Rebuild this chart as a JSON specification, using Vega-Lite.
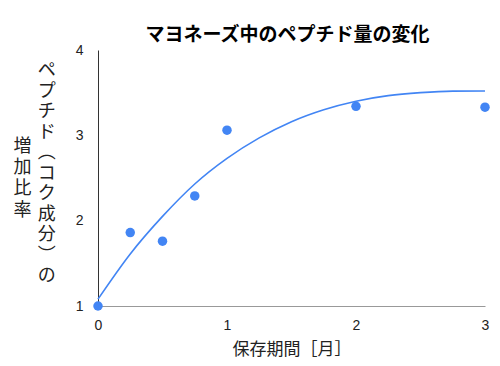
{
  "$schema": "https://vega.github.io/schema/vega-lite/v6.json",
  "width": 387,
  "height": 256,
  "autosize": {"type": "none"},
  "padding": {"left": 98, "top": 50, "right": 15, "bottom": 60},
  "background": "white",
  "config": {
    "font": "Liberation Sans, Noto Sans CJK JP",
    "view": {"stroke": null},
    "axis": {"grid": false, "ticks": false, "labelFlush": false, "labelFont": "Liberation Sans", "labelFontSize": 14, "labelColor": "#222", "titleFont": "Noto Sans CJK JP", "titleFontWeight": "normal", "titleColor": "#222"}
  },
  "title": {"text": "マヨネーズ中のペプチド量の変化", "font": "Noto Sans CJK JP", "fontSize": 19, "fontWeight": "bold", "color": "#000", "anchor": "middle", "frame": "group", "offset": 1, "dx": -4, "dy": 5},
  "datasets": {
    "points": [
      {"month": 0, "ratio": 1.0},
      {"month": 0.25, "ratio": 1.86},
      {"month": 0.5, "ratio": 1.76},
      {"month": 0.75, "ratio": 2.29},
      {"month": 1, "ratio": 3.06},
      {"month": 2, "ratio": 3.34},
      {"month": 3, "ratio": 3.33}
    ],
    "trend": [
      {"month": 0, "ratio": 1.08},
      {"month": 0.25, "ratio": 1.61},
      {"month": 0.5, "ratio": 2.05},
      {"month": 0.75, "ratio": 2.43},
      {"month": 1, "ratio": 2.73},
      {"month": 1.25, "ratio": 2.97},
      {"month": 1.5, "ratio": 3.16},
      {"month": 1.75, "ratio": 3.3},
      {"month": 2, "ratio": 3.4},
      {"month": 2.25, "ratio": 3.465},
      {"month": 2.5, "ratio": 3.5},
      {"month": 2.75, "ratio": 3.518},
      {"month": 3, "ratio": 3.52}
    ]
  },
  "layer": [
    {
      "data": {"name": "points"},
      "mark": {"type": "circle", "size": 90, "opacity": 1, "color": "#4285F4"},
      "encoding": {
        "x": {"field": "month", "type": "quantitative", "scale": {"domain": [0, 3], "nice": false},
              "axis": {"values": [0, 1, 2, 3], "format": "d", "title": "保存期間［月］", "titleFontSize": 17, "labelPadding": 12, "titlePadding": 9, "domainColor": "#999"}},
        "y": {"field": "ratio", "type": "quantitative", "scale": {"domain": [1, 4], "nice": false},
              "axis": {"orient": "left", "values": [1, 2, 3, 4], "format": "d", "labelPadding": 15, "domainColor": "#333",
                       "title": ["", "ペ", "プ", "チ", "ド", "︵", "コ", "ク", "成", "分", "︶", "の"],
                       "titleAnchor": "end", "titleAngle": 0, "titleAlign": "center", "titleBaseline": "middle", "titleFontSize": 18, "titleLineHeight": 20.5, "titlePadding": -196.5}}
      }
    },
    {
      "data": {"name": "trend"},
      "mark": {"type": "line", "interpolate": "monotone", "strokeWidth": 1.6, "color": "#4285F4"},
      "encoding": {
        "x": {"field": "month", "type": "quantitative", "title": "保存期間［月］"},
        "y": {"field": "ratio", "type": "quantitative",
              "axis": {"orient": "left", "labels": false, "domain": false, "ticks": false,
                       "title": ["⠀", "⠀", "⠀", "⠀", "増", "加", "比", "率"],
                       "titleAnchor": "end", "titleAngle": 0, "titleAlign": "center", "titleBaseline": "line-top", "titleFontSize": 18, "titleLineHeight": 21.3, "titlePadding": -73.1}}
      }
    }
  ],
  "resolve": {"axis": {"y": "independent"}}
}
